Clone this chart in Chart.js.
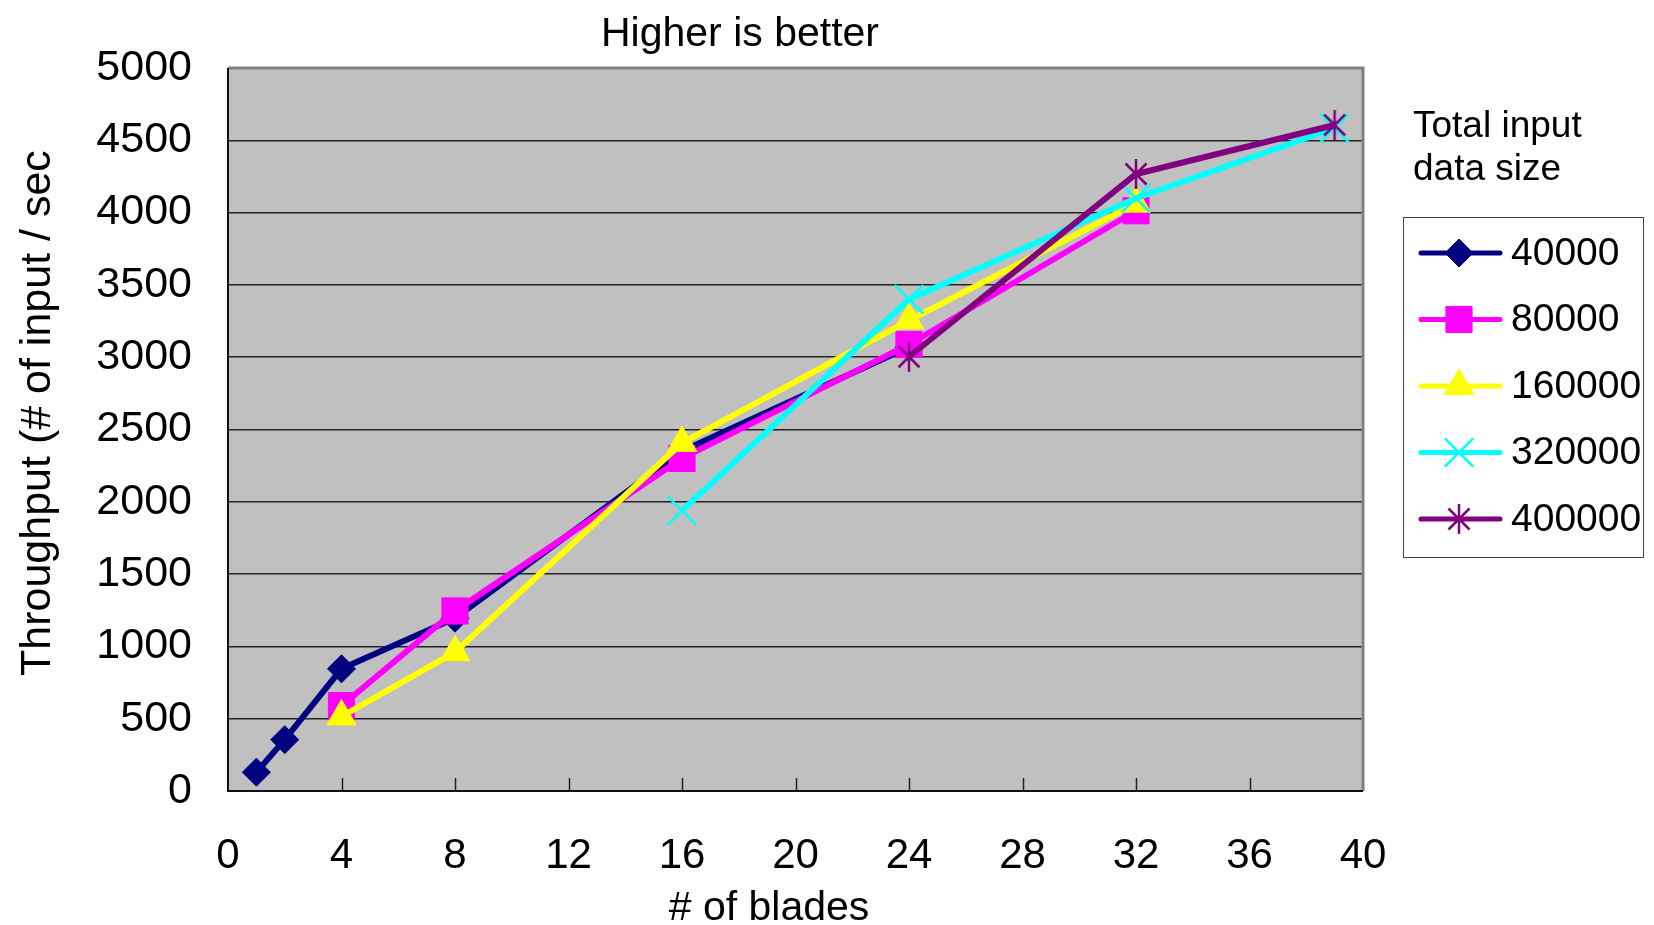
<!DOCTYPE html>
<html>
<head>
<meta charset="utf-8">
<title>Higher is better</title>
<script src="https://cdn.jsdelivr.net/npm/chart.js@4/dist/chart.umd.min.js"></script>
<style>
  html, body { margin: 0; padding: 0; background: #fff; }
  #wrap { width: 1654px; height: 925px; position: relative; }
</style>
</head>
<body>
<div id="wrap"><canvas id="throughput"></canvas></div>
<script>
// Throughput vs number of blades, one line per input data size

const sizeLabels = ["40000", "80000", "160000", "320000", "400000"];

const blades40k = [1, 2, 4, 8, 16, 24];
const tput40k = [130, 355, 845, 1195, 2350, 3070];

const blades80k = [4, 8, 16, 24, 32];
const tput80k = [590, 1245, 2300, 3088, 4013];

const blades160k = [4, 8, 16, 24, 32];
const tput160k = [515, 960, 2407, 3255, 4062];

const blades320k = [16, 24, 32, 39];
const tput320k = [1939, 3400, 4099, 4585];

const blades400k = [24, 32, 39];
const tput400k = [3003, 4267, 4606];

const xTicks = [0, 4, 8, 12, 16, 20, 24, 28, 32, 36, 40];
const yTicks = [0, 500, 1000, 1500, 2000, 2500, 3000, 3500, 4000, 4500, 5000];

const FONT = "'Liberation Sans', Arial, sans-serif";

function toPoints(xs, ys) {
  return xs.map((x, i) => ({ x: x, y: ys[i] }));
}

// excel style asterisk: vertical bar + X, no horizontal bar
function starMarker(color) {
  const c = document.createElement("canvas");
  c.width = 32;
  c.height = 32;
  const g = c.getContext("2d");
  g.strokeStyle = color;
  g.lineWidth = 2.5;
  g.beginPath();
  g.moveTo(16, 1); g.lineTo(16, 31);
  g.moveTo(5.5, 5.5); g.lineTo(26.5, 26.5);
  g.moveTo(26.5, 5.5); g.lineTo(5.5, 26.5);
  g.stroke();
  return c;
}

const styles = [
  { color: "#000080", pointStyle: "rectRot", radius: 14, pw: 1 },
  { color: "#FF00FF", pointStyle: "rect", radius: 18.5, pw: 1 },
  { color: "#FFFF00", pointStyle: "triangle", radius: 17, pw: 1 },
  { color: "#00FFFF", pointStyle: "crossRot", radius: 20, pw: 2.5 },
  { color: "#800080", pointStyle: starMarker("#800080"), radius: 15, pw: 2.5 },
];

const series = [
  toPoints(blades40k, tput40k),
  toPoints(blades80k, tput80k),
  toPoints(blades160k, tput160k),
  toPoints(blades320k, tput320k),
  toPoints(blades400k, tput400k),
];

const datasets = series.map((pts, i) => ({
  label: sizeLabels[i],
  data: pts,
  borderColor: styles[i].color,
  backgroundColor: styles[i].color,
  borderWidth: 6,
  pointStyle: styles[i].pointStyle,
  pointRadius: styles[i].radius,
  pointHoverRadius: styles[i].radius,
  pointBorderWidth: styles[i].pw,
  pointBackgroundColor: styles[i].color,
  pointBorderColor: styles[i].color,
  tension: 0,
  fill: false,
  clip: 20,
  order: 5 - i, // later sizes are painted on top
}));

// grey plot area, frame and inner tick marks
const plotFrame = {
  id: "plotFrame",
  beforeDraw(chart) {
    const { ctx, chartArea: a } = chart;
    ctx.save();
    ctx.fillStyle = "#C0C0C0";
    ctx.fillRect(a.left, a.top, a.right - a.left, a.bottom - a.top);
    ctx.restore();
  },
  beforeDatasetsDraw(chart) {
    const { ctx, chartArea: a } = chart;
    const xs = chart.scales.x;
    ctx.save();
    ctx.strokeStyle = "#222";
    ctx.lineWidth = 1.5;
    xTicks.slice(1, -1).forEach((t) => {
      const px = Math.round(xs.getPixelForValue(t)) + 0.5;
      ctx.beginPath();
      ctx.moveTo(px, a.bottom);
      ctx.lineTo(px, a.bottom - 13);
      ctx.stroke();
    });
    ctx.strokeStyle = "#808080";
    ctx.lineWidth = 3;
    ctx.beginPath();
    ctx.moveTo(a.left, a.top);
    ctx.lineTo(a.right, a.top);
    ctx.lineTo(a.right, a.bottom);
    ctx.stroke();
    ctx.strokeStyle = "#111";
    ctx.lineWidth = 2;
    ctx.beginPath();
    ctx.moveTo(a.left, a.top);
    ctx.lineTo(a.left, a.bottom);
    ctx.lineTo(a.right, a.bottom);
    ctx.stroke();
    ctx.restore();
  },
};

// titles and the boxed legend on the right
const labelsAndLegend = {
  id: "labelsAndLegend",
  afterDraw(chart) {
    const ctx = chart.ctx;
    ctx.save();
    ctx.fillStyle = "#000";
    ctx.textBaseline = "alphabetic";

    ctx.font = "41px " + FONT;
    ctx.textAlign = "center";
    ctx.fillText("Higher is better", 740, 46);
    ctx.fillText("# of blades", 769, 920);

    ctx.save();
    ctx.translate(50, 676);
    ctx.rotate(-Math.PI / 2);
    ctx.textAlign = "left";
    ctx.font = "43px " + FONT;
    ctx.fillText("Throughput (# of input / sec", 0, 0);
    ctx.restore();

    ctx.textAlign = "left";
    ctx.font = "37px " + FONT;
    ctx.fillText("Total input", 1413, 137);
    ctx.fillText("data size", 1413, 180);

    ctx.strokeStyle = "#404040";
    ctx.lineWidth = 1;
    ctx.strokeRect(1403.5, 217.5, 240, 340);

    chart.data.datasets.forEach((ds, i) => {
      const y = 253 + i * 66.5;
      ctx.strokeStyle = ds.borderColor;
      ctx.lineWidth = 5;
      ctx.lineCap = "round";
      ctx.beginPath();
      ctx.moveTo(1421, y);
      ctx.lineTo(1500, y);
      ctx.stroke();
      ctx.lineCap = "butt";
      ctx.fillStyle = ds.pointBackgroundColor;
      ctx.strokeStyle = ds.pointBorderColor;
      ctx.lineWidth = ds.pointBorderWidth;
      if (Chart.helpers && Chart.helpers.drawPoint) {
        Chart.helpers.drawPoint(ctx, {
          pointStyle: ds.pointStyle,
          radius: ds.pointRadius,
          rotation: 0,
          borderWidth: ds.pointBorderWidth,
        }, 1459, y);
      }
      ctx.fillStyle = "#000";
      ctx.font = "39px " + FONT;
      ctx.textBaseline = "middle";
      ctx.fillText(ds.label, 1511, y + 1);
      ctx.textBaseline = "alphabetic";
    });
    ctx.restore();
  },
};

new Chart(document.getElementById("throughput").getContext("2d"), {
  type: "line",
  data: { datasets },
  plugins: [plotFrame, labelsAndLegend],
  options: {
    responsive: true,
    maintainAspectRatio: false,
    animation: false,
    layout: { padding: { left: 0, top: 68, right: 291, bottom: 0 } },
    scales: {
      x: {
        type: "linear",
        min: 0,
        max: 40,
        afterFit: (s) => { s.height = 134; },
        afterBuildTicks: (s) => { s.ticks = xTicks.map((v) => ({ value: v })); },
        grid: { display: false, drawTicks: false },
        border: { display: false },
        ticks: {
          color: "#000",
          padding: 40,
          maxRotation: 0,
          autoSkip: false,
          font: { family: FONT, size: 42 },
          callback: (v) => String(v),
        },
      },
      y: {
        min: 0,
        max: 5000,
        afterFit: (s) => { s.width = 228; },
        afterBuildTicks: (s) => { s.ticks = yTicks.map((v) => ({ value: v })); },
        grid: { color: "#222", lineWidth: 1.5, drawTicks: false },
        border: { display: false },
        ticks: {
          color: "#000",
          padding: 36,
          autoSkip: false,
          font: { family: FONT, size: 43 },
          callback: (v) => String(v),
        },
      },
    },
    plugins: {
      legend: { display: false },
      title: { display: false },
      tooltip: { enabled: false },
    },
  },
});
</script>
</body>
</html>
